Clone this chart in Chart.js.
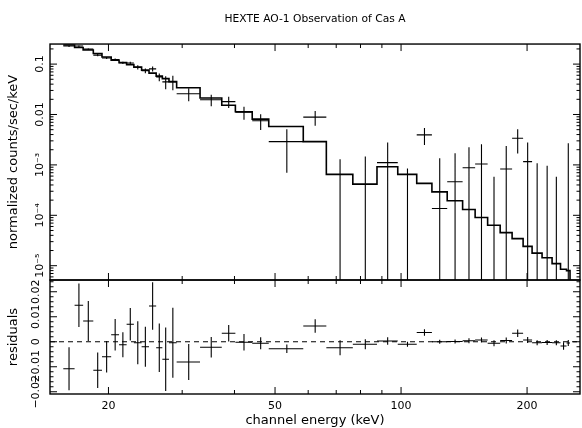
<!DOCTYPE html>
<html>
<head>
<meta charset="utf-8">
<script src="https://cdn.jsdelivr.net/npm/chart.js@4.4.1/dist/chart.umd.min.js"></script>
<style>
  html, body { margin: 0; padding: 0; background: #fff; }
  #wrap { width: 582px; height: 428px; }
</style>
</head>
<body>
<div id="wrap"><canvas id="spec"></canvas></div>
<script>
// channel bin edges (keV)
const edges = [15.6, 16.6, 17.4, 18.4, 19.3, 20.3, 21.2, 22.1, 23.0, 24.0, 25.0, 26.0, 26.9, 27.9,
  29.1, 33.1, 37.3, 40.2, 44.1, 48.3, 58.4, 66.3, 76.7, 87.6, 98.2, 109.0, 118.5, 128.9,
  140.3, 150.3, 161.0, 172.5, 184.2, 195.7, 205.6, 217.2, 229.5, 240.4, 248.5, 253.3];

// folded model, counts/sec/keV
const model = [0.239, 0.213, 0.190, 0.162, 0.138, 0.120, 0.107, 0.0977, 0.0871, 0.0759, 0.0662,
  0.0577, 0.0514, 0.0448, 0.0340, 0.0212, 0.01525, 0.01132, 0.0081, 0.00577, 0.0029, 6.5e-4,
  4.16e-4, 9.2e-4, 6.5e-4, 4.3e-4, 2.92e-4, 1.94e-4, 1.3e-4, 9.04e-5, 6.35e-5, 4.54e-5, 3.45e-5,
  2.42e-5, 1.78e-5, 1.44e-5, 1.1e-5, 8.5e-6, 8.0e-6];

// observed rate and 1-sigma error, counts/sec/keV
const rate = [0.228, 0.228, 0.198, 0.151, 0.132, 0.123, 0.106, 0.105, 0.0867, 0.0739, 0.0805,
  0.0553, 0.0444, 0.0444, 0.0258, 0.0196, 0.0180, 0.0111, 0.0075, 0.0029, 0.00887, -0.00175,
  -0.00058, 0.00111, -0.00035, 0.00394, 0.000136, 0.000462, 0.000879, 0.00104, -0.00054,
  0.000828, 0.00339, 0.00116, -0.00038, -0.00029, -0.00039, -0.00169, -0.0004];
const rateErr = [0.0086, 0.0087, 0.008, 0.0071, 0.0063, 0.0063, 0.005, 0.0065, 0.0086, 0.008,
  0.0095, 0.0097, 0.0127, 0.014, 0.0075, 0.005, 0.0045, 0.0032, 0.0026, 0.0022, 0.0029, 0.00304,
  0.00204, 0.00166, 0.0012, 0.00146, 0.00122, 0.00124, 0.00137, 0.00153, 0.00112, 0.00155,
  0.0017, 0.00161, 0.00146, 0.00125, 0.00097, 0.0015, 0.0031];

// residuals (data - model)
const resid = [-0.0108, 0.0146, 0.0083, -0.0114, -0.0060, 0.0028, -0.0012, 0.0070, -0.0004,
  -0.0020, 0.0143, -0.0024, -0.0070, -0.0004, -0.0081, -0.0022, 0.0034, -0.0002, -0.0006,
  -0.0028, 0.0063, -0.0024, -0.0010, 0.0003, -0.0010, 0.0037, 0.0000, 0.0001, 0.0004, 0.0007,
  -0.0006, 0.0005, 0.0034, 0.0007, -0.0004, -0.0003, -0.0004, -0.0017, -0.0005];
const residErr = [0.0086, 0.0087, 0.0080, 0.0071, 0.0063, 0.0063, 0.0050, 0.0065, 0.0086,
  0.0080, 0.0095, 0.0097, 0.0127, 0.0140, 0.0072, 0.0041, 0.0033, 0.0033, 0.0024, 0.0017,
  0.0027, 0.0030, 0.0020, 0.0015, 0.0010, 0.0013, 0.0008, 0.0008, 0.0010, 0.0010, 0.0012,
  0.0012, 0.0015, 0.0012, 0.0010, 0.0010, 0.0010, 0.0015, 0.0012];

const xTickLabels = [20, 50, 100, 200];
const xMinorTicks = [30, 40, 60, 70, 80, 90];
const rateTicks = [1e-5, 1e-4, 1e-3, 0.01, 0.1];
const rateTickLabels = ['10\u207B\u2075', '10\u207B\u2074', '10\u207B\u00B3', '0.01', '0.1'];
const residTicks = [-0.02, -0.01, 0, 0.01, 0.02];
const residTickLabels = ['\u22120.02', '\u22120.01', '0', '0.01', '0.02'];

const X_MIN = 14.5, X_MAX = 267.6;
const RATE_MIN = 5.2e-6, RATE_MAX = 0.25;
const RES_MIN = -0.0209, RES_MAX = 0.0247;

const rateMinor = [];
for (let e = -6; e <= -1; e++) {
  for (let k = 2; k <= 9; k++) {
    const v = k * Math.pow(10, e);
    if (v > RATE_MIN && v < RATE_MAX) rateMinor.push(v);
  }
}
const residMinor = [];
for (let i = -10; i <= 12; i++) {
  if (i % 5 !== 0) residMinor.push(i * 0.002);
}

// error crosses: horizontal bar over the bin, vertical bar over the error
function crosses(vals, errs, floor) {
  const pts = [];
  vals.forEach((v, i) => {
    const lo = edges[i], hi = edges[i + 1], c = (lo + hi) / 2;
    if (v + errs[i] <= floor) return;
    if (v > floor) pts.push({x: lo, y: v}, {x: hi, y: v}, {x: c, y: null});
    pts.push({x: c, y: Math.max(v - errs[i], floor)}, {x: c, y: v + errs[i]}, {x: c, y: null});
  });
  return pts;
}

const modelPts = model.map((m, i) => ({x: edges[i], y: m}));
modelPts.push({x: edges[edges.length - 1], y: model[model.length - 1]});
modelPts.push({x: edges[edges.length - 1], y: RATE_MIN});

const pickLabel = (ticks, labels, v, rel) => {
  const i = ticks.findIndex(t => rel ? Math.abs(t - v) < t * 1e-6 : Math.abs(t - v) < 1e-9);
  return i < 0 ? '' : labels[i];
};

const frame = {
  id: 'frame',
  afterDraw(chart) {
    const {ctx, chartArea: area, scales} = chart;
    const xs = scales.x;
    const seg = (x1, y1, x2, y2) => { ctx.beginPath(); ctx.moveTo(x1, y1); ctx.lineTo(x2, y2); ctx.stroke(); };
    ctx.save();
    ctx.strokeStyle = '#000';
    [
      {s: scales.yRate, major: rateTicks, minor: rateMinor},
      {s: scales.yRes, major: residTicks, minor: residMinor}
    ].forEach(({s, major, minor}) => {
      ctx.lineWidth = 1.4;
      ctx.strokeRect(area.left, s.top, area.right - area.left, s.bottom - s.top);
      ctx.lineWidth = 1;
      xTickLabels.forEach(v => { const p = xs.getPixelForValue(v); seg(p, s.top, p, s.top + 7); seg(p, s.bottom, p, s.bottom - 7); });
      xMinorTicks.forEach(v => { const p = xs.getPixelForValue(v); seg(p, s.top, p, s.top + 4); seg(p, s.bottom, p, s.bottom - 4); });
      major.forEach(v => { const p = s.getPixelForValue(v); seg(area.left, p, area.left + 7, p); seg(area.right, p, area.right - 7, p); });
      minor.forEach(v => { const p = s.getPixelForValue(v); seg(area.left, p, area.left + 3.5, p); seg(area.right, p, area.right - 3.5, p); });
    });
    ctx.restore();
  }
};

const tickFont = {family: 'DejaVu Sans', size: 11};
const titleFont = {family: 'DejaVu Sans', size: 13};

new Chart(document.getElementById('spec'), {
  type: 'line',
  data: {
    datasets: [
      {data: modelPts, yAxisID: 'yRate', stepped: true, borderColor: '#000', borderWidth: 1.6, pointRadius: 0},
      {data: crosses(rate, rateErr, RATE_MIN), yAxisID: 'yRate', borderColor: '#000', borderWidth: 1.1, pointRadius: 0, spanGaps: false},
      {data: [{x: X_MIN, y: 0}, {x: X_MAX, y: 0}], yAxisID: 'yRes', borderColor: '#000', borderWidth: 1, borderDash: [5, 4], pointRadius: 0},
      {data: crosses(resid, residErr, -Infinity), yAxisID: 'yRes', borderColor: '#000', borderWidth: 1.1, pointRadius: 0, spanGaps: false}
    ]
  },
  options: {
    responsive: true,
    maintainAspectRatio: false,
    animation: false,
    layout: {padding: {right: 2}},
    plugins: {
      legend: {display: false},
      tooltip: {enabled: false},
      title: {
        display: true,
        fullSize: false,
        text: 'HEXTE AO-1 Observation of Cas A',
        color: '#000',
        font: {family: 'DejaVu Sans', size: 10.7, weight: 'normal'},
        padding: {top: 12.5, bottom: 18.7}
      }
    },
    scales: {
      x: {
        type: 'logarithmic',
        min: X_MIN,
        max: X_MAX,
        grid: {display: false, drawTicks: false},
        border: {display: false},
        afterBuildTicks: s => { s.ticks = xTickLabels.map(v => ({value: v})); },
        afterFit: s => { s.height = 34; },
        ticks: {color: '#000', font: tickFont, padding: 6, maxRotation: 0, autoSkip: false,
          callback: v => String(v)},
        title: {display: true, text: 'channel energy (keV)', color: '#000', font: titleFont, padding: {top: 0, bottom: 0}}
      },
      yRate: {
        type: 'logarithmic',
        position: 'left',
        stack: 'panels',
        stackWeight: 236,
        weight: 2,
        min: RATE_MIN,
        max: RATE_MAX,
        grid: {display: false, drawTicks: false},
        border: {display: false},
        afterBuildTicks: s => { s.ticks = rateTicks.map(v => ({value: v})); },
        afterFit: s => { s.width = 50; },
        ticks: {color: '#000', font: tickFont, minRotation: 90, maxRotation: 90, crossAlign: 'center',
          padding: -2, autoSkip: false,
          callback: v => pickLabel(rateTicks, rateTickLabels, v, true)},
        title: {display: true, text: 'normalized counts/sec/keV', color: '#000', font: titleFont, padding: {top: 6, bottom: 0}}
      },
      yRes: {
        type: 'linear',
        position: 'left',
        stack: 'panels',
        stackWeight: 114,
        weight: 1,
        min: RES_MIN,
        max: RES_MAX,
        grid: {display: false, drawTicks: false},
        border: {display: false},
        afterBuildTicks: s => { s.ticks = residTicks.map(v => ({value: v})); },
        afterFit: s => { s.width = 50; },
        ticks: {color: '#000', font: tickFont, minRotation: 90, maxRotation: 90, crossAlign: 'center',
          padding: -3, autoSkip: false,
          callback: v => pickLabel(residTicks, residTickLabels, v, false)},
        title: {display: true, text: 'residuals', color: '#000', font: titleFont, padding: {top: 6, bottom: 0}}
      }
    }
  },
  plugins: [frame]
});
</script>
</body>
</html>
